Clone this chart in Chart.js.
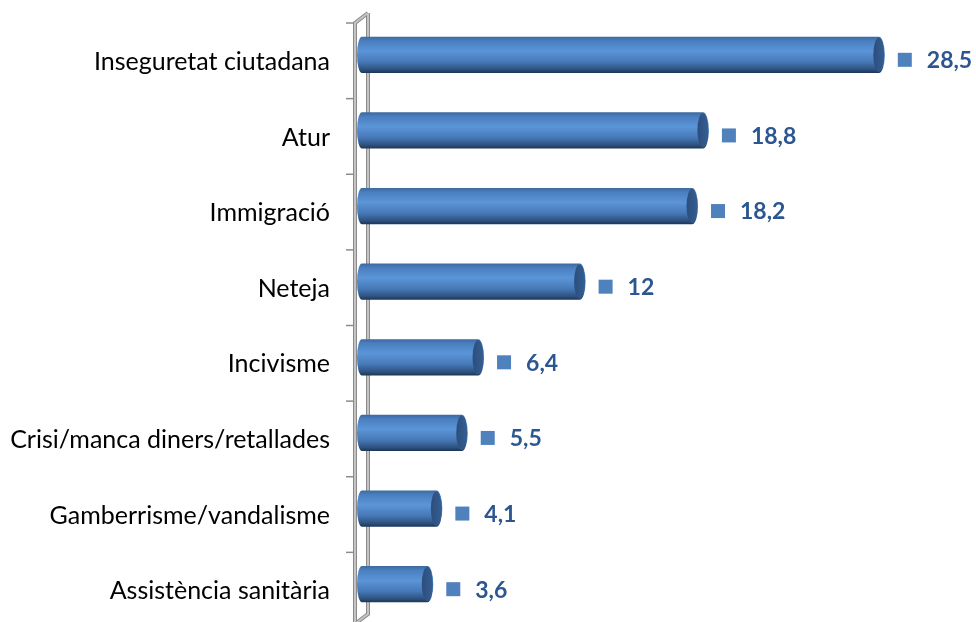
<!DOCTYPE html>
<html>
<head>
<meta charset="utf-8">
<script src="https://cdn.jsdelivr.net/npm/chart.js@4/dist/chart.umd.min.js"></script>
<style>
  html, body { margin: 0; padding: 0; background: #fff; overflow: hidden; }
  canvas { display: block; }
</style>
</head>
<body>
<canvas id="chart" width="976" height="626"></canvas>
<script>
// problemes citats (%)
const categories = [
  'Inseguretat ciutadana',
  'Atur',
  'Immigració',
  'Neteja',
  'Incivisme',
  'Crisi/manca diners/retallades',
  'Gamberrisme/vandalisme',
  'Assistència sanitària'
];
const values = [28.5, 18.8, 18.2, 12, 6.4, 5.5, 4.1, 3.6];
const axisMin = 0;
const axisMax = 30;

const fmt = v => String(v).replace('.', ',');

// 3d wall + cylinders + value labels
const cylinderPlugin = {
  id: 'cylinders',
  beforeDatasetsDraw(chart) {
    const ctx = chart.ctx;
    const area = chart.chartArea;
    const back = area.left + 6, front = area.left - 7;
    ctx.save();
    // ticks on front wall
    ctx.strokeStyle = '#8c8c8c';
    ctx.lineWidth = 1.5;
    for (let i = 0; i <= categories.length; i++) {
      const y = area.top + (area.bottom - area.top) * i / categories.length + 6;
      ctx.beginPath();
      ctx.moveTo(front - 9, y);
      ctx.lineTo(front, y);
      ctx.stroke();
    }
    const wall = () => {
      ctx.beginPath();
      ctx.moveTo(back, area.top - 4);
      ctx.lineTo(back, area.bottom - 8);
      ctx.lineTo(front, area.bottom + 2);
      ctx.moveTo(back, area.top - 4);
      ctx.lineTo(front, area.top + 6);
      ctx.lineTo(front, area.bottom + 20);
      ctx.stroke();
    };
    ctx.strokeStyle = '#8a8a8a';
    ctx.lineWidth = 4;
    wall();
    ctx.strokeStyle = '#c4c4c4';
    ctx.lineWidth = 2;
    wall();
    ctx.restore();
  },
  afterDatasetsDraw(chart) {
    const ctx = chart.ctx;
    const meta = chart.getDatasetMeta(0);
    ctx.save();
    meta.data.forEach((bar, i) => {
      const p = bar.getProps(['x', 'y', 'base', 'height'], true);
      const top = p.y - p.height / 2, bot = p.y + p.height / 2;
      const ry = p.height / 2;
      const g = ctx.createLinearGradient(0, top, 0, bot);
      g.addColorStop(0, '#3c699f');
      g.addColorStop(0.12, '#4a7fc0');
      g.addColorStop(0.4, '#5b95d8');
      g.addColorStop(0.7, '#4678b6');
      g.addColorStop(0.9, '#2e527f');
      g.addColorStop(1, '#1c3556');
      // body
      ctx.fillStyle = g;
      ctx.beginPath();
      ctx.ellipse(p.base, p.y, 5, ry, 0, Math.PI / 2, Math.PI * 1.5);
      ctx.lineTo(p.x, top);
      ctx.ellipse(p.x, p.y, 6, ry, 0, -Math.PI / 2, Math.PI / 2);
      ctx.closePath();
      ctx.fill();
      // end face
      const fg = ctx.createLinearGradient(p.x - 6, 0, p.x + 6, 0);
      fg.addColorStop(0, '#2a4d7c');
      fg.addColorStop(1, '#375f92');
      ctx.fillStyle = fg;
      ctx.beginPath();
      ctx.ellipse(p.x, p.y, 5.5, ry - 1, 0, 0, Math.PI * 2);
      ctx.fill();
      // value label
      const cy = p.y + 5;
      ctx.fillStyle = '#4f81bd';
      ctx.fillRect(p.x + 19, cy - 7, 14, 14);
      ctx.fillStyle = '#2c5690';
      ctx.font = 'bold 23px Lato';
      ctx.textAlign = 'left';
      ctx.textBaseline = 'middle';
      ctx.fillText(fmt(values[i]), p.x + 48, cy + 1);
    });
    ctx.restore();
  }
};

new Chart(document.getElementById('chart'), {
  type: 'bar',
  data: {
    labels: categories,
    datasets: [{
      data: values,
      backgroundColor: 'rgba(0,0,0,0)',
      borderWidth: 0,
      categoryPercentage: 1,
      barPercentage: 0.48
    }]
  },
  options: {
    indexAxis: 'y',
    responsive: false,
    animation: false,
    devicePixelRatio: 1,
    layout: { padding: { left: 0, right: 70, top: 17, bottom: 4 } },
    plugins: { legend: { display: false }, tooltip: { enabled: false } },
    scales: {
      x: {
        min: axisMin,
        max: axisMax,
        display: false
      },
      y: {
        afterFit(scale) {
          scale.width = 362;
          scale.paddingTop = 0;
          scale.paddingBottom = 0;
        },
        grid: { display: false, drawTicks: false },
        border: { display: false },
        ticks: {
          color: '#000',
          font: { family: 'Lato', size: 25 },
          padding: 32,
          labelOffset: 7
        }
      }
    }
  },
  plugins: [cylinderPlugin]
});
</script>
</body>
</html>
